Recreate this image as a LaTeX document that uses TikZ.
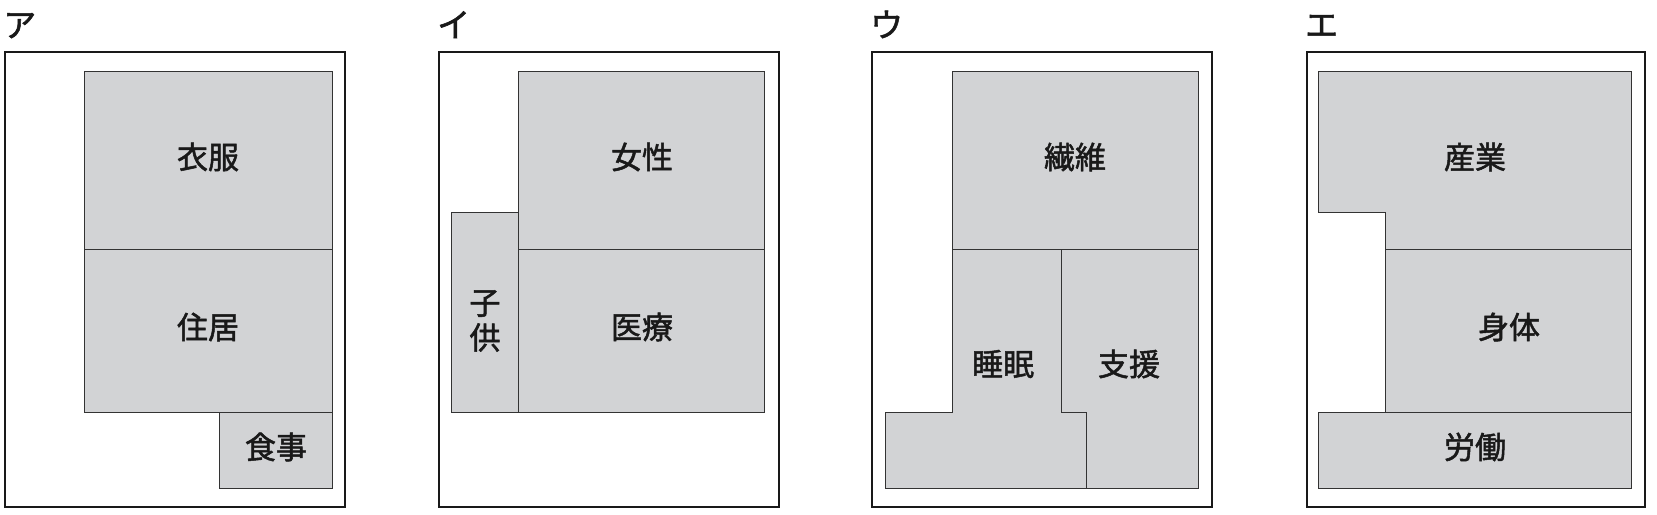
\documentclass[tikz,border=0pt]{standalone}
\usepackage{fontspec}
\setmainfont{Noto Sans CJK JP}
\newfontfamily\jpfont[FakeBold=1.6]{Noto Sans CJK JP}
\begin{document}
\begin{tikzpicture}[x=1pt,y=-1pt,
  frame/.style={draw=black!90,line width=1.6pt},
  cell/.style={draw=black!80,line width=0.9pt,fill=cellgray},
  lbl/.style={font=\jpfont\fontsize{31}{31}\selectfont,text=black!90,inner sep=0pt},
  tag/.style={font=\jpfont\fontsize{33}{33}\selectfont,text=black!90,inner sep=0pt,anchor=base west}]
\definecolor{cellgray}{RGB}{210,211,213}
\useasboundingbox (0,0) rectangle (1657,514);
% ---- ア
\node[tag] (tA) at (3,37) {ア};
\draw[frame] (5,52) rectangle (345,507);
\draw[cell] (84,71) rectangle (332,249);
\draw[cell] (84,249) rectangle (332,412);
\draw[cell] (219,412) rectangle (332,488);
\node[lbl] (a1) at (208,157) {衣服};
\node[lbl] (a2) at (208,327) {住居};
\node[lbl] (a3) at (276,447) {食事};
% ---- イ
\node[tag] (tI) at (437,37) {イ};
\draw[frame] (439,52) rectangle (779,507);
\draw[cell] (518,71) rectangle (764,249);
\draw[cell] (518,249) rectangle (764,412);
\draw[cell] (451,212) rectangle (518,412);
\node[lbl] (b1) at (642,157) {女性};
\node[lbl] (b2) at (642,327) {医療};
\node[lbl,align=center] (b3) at (485,321) {子\\[4pt]供};
% ---- ウ
\node[tag] (tU) at (870,37) {ウ};
\draw[frame] (872,52) rectangle (1212,507);
\draw[cell] (952,71) rectangle (1198,249);
\draw[cell] (1061,249) -- (1198,249) -- (1198,488) -- (1086,488) -- (1086,412) -- (1061,412) -- cycle;
\draw[cell] (952,249) -- (1061,249) -- (1061,412) -- (1086,412) -- (1086,488) -- (885,488) -- (885,412) -- (952,412) -- cycle;
\node[lbl] (c1) at (1075,157) {繊維};
\node[lbl] (c2) at (1003,364) {睡眠};
\node[lbl] (c3) at (1129,364) {支援};
% ---- エ
\node[tag] (tE) at (1305,37) {エ};
\draw[frame] (1307,52) rectangle (1645,507);
\draw[cell] (1318,71) -- (1631,71) -- (1631,249) -- (1385,249) -- (1385,212) -- (1318,212) -- cycle;
\draw[cell] (1385,249) rectangle (1631,412);
\draw[cell] (1318,412) rectangle (1631,488);
\node[lbl] (d1) at (1475,157) {産業};
\node[lbl] (d2) at (1509,327) {身体};
\node[lbl] (d3) at (1475,447) {労働};
\end{tikzpicture}
\end{document}
